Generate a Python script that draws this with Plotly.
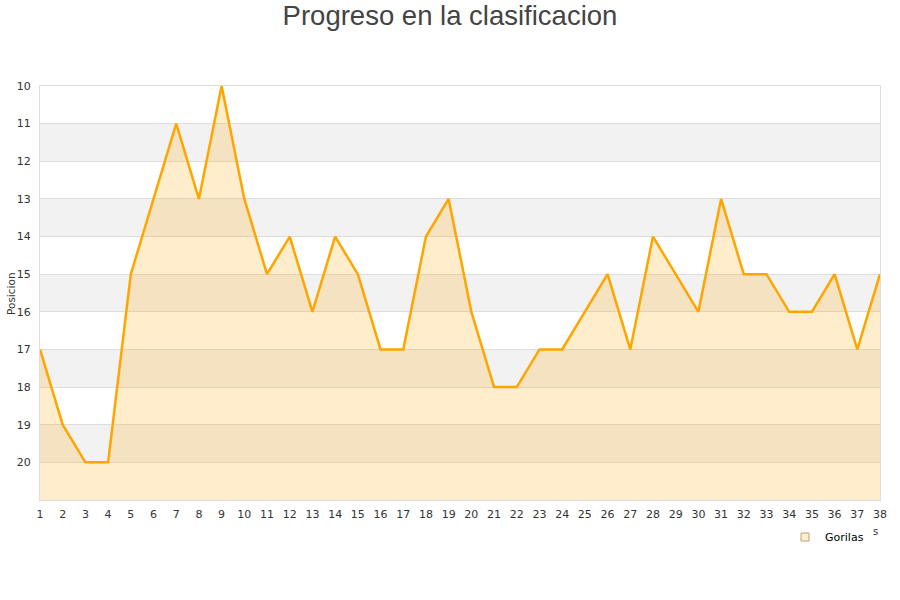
import plotly.graph_objects as go

jornadas = list(range(1, 39))
posiciones = [17, 19, 20, 20, 15, 13, 11, 13, 10, 13, 15, 14, 16, 14, 15, 17, 17, 14, 13, 16,
              18, 18, 17, 17, 16, 15, 17, 14, 15, 16, 13, 15, 15, 16, 16, 15, 17, 15]
y_ticks = list(range(10, 21))
serie = "Gorilas"
fondo = 21

W, H = 900, 600
L, R, T, B = 40, 20, 86, 100
pw, ph = W - L - R, H - T - B

fig = go.Figure()
fig.add_trace(go.Scatter(x=jornadas, y=[fondo] * len(jornadas), mode="lines",
                         line=dict(width=0), hoverinfo="skip", showlegend=False))
fig.add_trace(go.Scatter(x=jornadas, y=posiciones, mode="lines", name=serie,
                         fill="tonexty", fillcolor="rgba(255,165,0,0.2)",
                         line=dict(color="#FFA500", width=2.5), showlegend=False))
fig.add_trace(go.Scatter(x=[None], y=[None], mode="markers", name=serie,
                         marker=dict(symbol="square", size=8, color="#FFEDCC",
                                     line=dict(color="#B8A27A", width=1))))

shapes = []
for k in range(11, 21, 2):
    shapes.append(dict(type="rect", xref="paper", yref="y", x0=0, x1=1, y0=k, y1=k + 1,
                       fillcolor="#f2f2f2", line=dict(width=0), layer="below"))

def px_x(x):
    return (x - L) / pw

def px_y(y):
    return (H - B - y) / ph

fig.update_layout(
    width=W, height=H,
    paper_bgcolor="white", plot_bgcolor="white",
    margin=dict(l=L, r=R, t=T, b=B),
    title=dict(text="Progreso en la clasificacion", x=0.5, xanchor="center",
               y=1 - 15 / H, yanchor="middle",
               font=dict(family="Liberation Sans, Arial", size=27.5, color="#444444")),
    font=dict(family="DejaVu Sans", size=11, color="#333333"),
    shapes=shapes,
    showlegend=True,
    legend=dict(x=px_x(785), y=px_y(537), xanchor="left", yanchor="middle", orientation="h",
                font=dict(family="DejaVu Sans", size=11, color="#000000"), bgcolor="rgba(0,0,0,0)"),
    annotations=[
        dict(text="Posicion", textangle=-90, xref="paper", yref="paper",
             x=px_x(11), y=px_y(293), showarrow=False, xanchor="center", yanchor="middle",
             font=dict(size=10.5, color="#333333")),
        dict(text="s", xref="paper", yref="paper", x=px_x(875), y=px_y(531),
             showarrow=False, xanchor="center", yanchor="middle",
             font=dict(size=10, color="#333333")),
    ],
    xaxis=dict(range=[1, 38], tickvals=jornadas, showgrid=False, zeroline=False,
               showline=True, linecolor="#dddddd", mirror=True, ticks="", automargin=False,
               ticklabelstandoff=4, tickfont=dict(size=11, color="#333333")),
    yaxis=dict(range=[21, 10], tickvals=y_ticks, showgrid=True, gridcolor="#dddddd", zeroline=False,
               showline=True, linecolor="#dddddd", mirror=True, ticks="", automargin=False,
               ticklabelstandoff=6, tickfont=dict(size=11, color="#333333")),
)
fig.write_html("out.html", config={"displayModeBar": False},
               post_script="document.body.style.margin='0';document.body.style.overflow='hidden';")
